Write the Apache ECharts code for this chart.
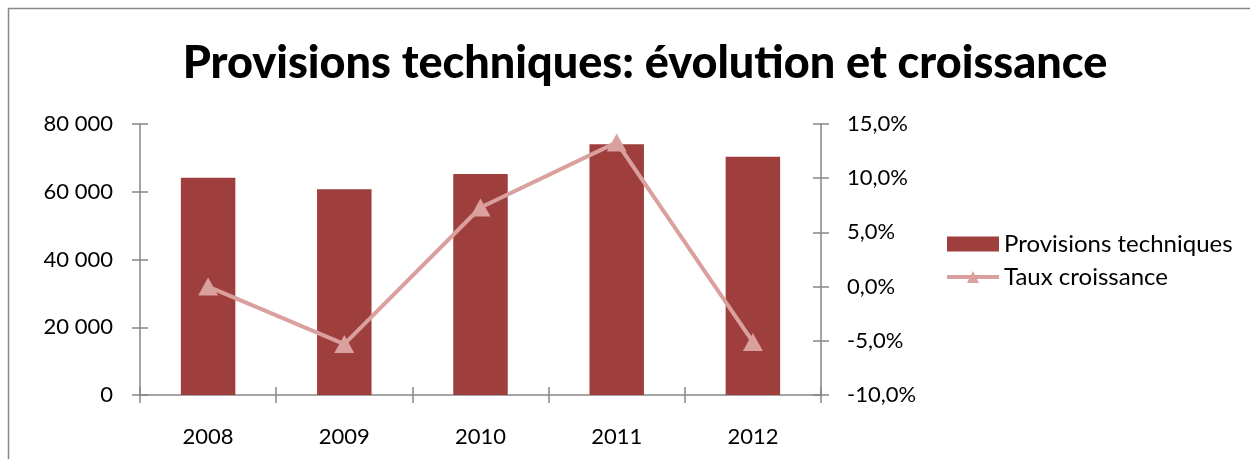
<!DOCTYPE html>
<html>
<head>
<meta charset="utf-8">
<script src="https://cdn.jsdelivr.net/npm/echarts@6/dist/echarts.min.js"></script>
<style>html,body{margin:0;padding:0;background:#fff}#c{width:1250px;height:459px}</style>
</head>
<body>
<div id="c"></div>
<script>
var categories = ['2008', '2009', '2010', '2011', '2012'];
var provisions = [64150, 60720, 65240, 74000, 70350];
var croissance = [0.0, -5.3, 7.3, 13.3, -5.1];
var leftTicks = {min: 0, max: 80000, interval: 20000};
var rightTicks = {min: -10, max: 15, interval: 5};

var FONT = 'Lato';
var AXIS = '#868686';
var LINE = '#D9A09E';
var chart = echarts.init(document.getElementById('c'));

function leftFmt(v){ return String(v).replace(/\B(?=(\d{3})+(?!\d))/g, ' '); }
function rightFmt(v){ return v.toFixed(1).replace('.', ',') + '%'; }

var lbl = {color: '#000', fontFamily: FONT, fontSize: 22};

chart.setOption({
  animation: false,
  title: {
    text: 'Provisions techniques: évolution et croissance',
    left: 640, top: 36, textAlign: 'center',
    textStyle: {fontFamily: FONT, fontWeight: 900, fontSize: 45, color: '#000'}
  },
  graphic: [{
    type: 'rect', shape: {x: 8.5, y: 8.5, width: 1300, height: 500},
    style: {fill: 'none', stroke: '#888', lineWidth: 1.5}, z: -1
  }],
  legend: {
    orient: 'vertical', left: 940, top: 227,
    itemWidth: 52, itemHeight: 15, itemGap: 9,
    textStyle: {fontFamily: FONT, fontSize: 24, color: '#000'},
    data: [
      {name: 'Provisions techniques', icon: 'rect'},
      {name: 'Taux croissance', lineStyle: {width: 4, color: LINE}}
    ]
  },
  grid: {left: 140, right: 429, top: 124, bottom: 64},
  xAxis: [{
    type: 'category', data: categories, boundaryGap: true,
    axisLine: {onZero: false, lineStyle: {color: AXIS, width: 1.5}},
    axisTick: {show: true, length: 8, lineStyle: {color: AXIS, width: 1.5}},
    axisLabel: Object.assign({margin: 31}, lbl),
    splitLine: {show: false}
  }, {
    type: 'category', data: categories, boundaryGap: true, position: 'bottom',
    axisLine: {show: false, onZero: false},
    axisTick: {show: true, inside: true, length: 8, lineStyle: {color: AXIS, width: 1.5}},
    axisLabel: {show: false}, splitLine: {show: false}
  }],
  yAxis: [{
    type: 'value', position: 'left', min: leftTicks.min, max: leftTicks.max, interval: leftTicks.interval,
    axisLine: {show: true, lineStyle: {color: AXIS, width: 1.5}},
    axisTick: {show: true, length: 8, lineStyle: {color: AXIS, width: 1.5}},
    axisLabel: Object.assign({margin: 27, formatter: leftFmt}, lbl),
    splitLine: {show: false}
  }, {
    type: 'value', position: 'right', min: rightTicks.min, max: rightTicks.max, interval: rightTicks.interval,
    axisLine: {show: true, lineStyle: {color: AXIS, width: 1.5}},
    axisTick: {show: true, length: 8, lineStyle: {color: AXIS, width: 1.5}},
    axisLabel: Object.assign({margin: 26, formatter: rightFmt}, lbl),
    splitLine: {show: false}
  }, {
    type: 'value', position: 'left', min: leftTicks.min, max: leftTicks.max, interval: leftTicks.interval,
    axisLine: {show: false},
    axisTick: {show: true, inside: true, length: 8, lineStyle: {color: AXIS, width: 1.5}},
    axisLabel: {show: false}, splitLine: {show: false}
  }, {
    type: 'value', position: 'right', min: rightTicks.min, max: rightTicks.max, interval: rightTicks.interval,
    axisLine: {show: false},
    axisTick: {show: true, inside: true, length: 8, lineStyle: {color: AXIS, width: 1.5}},
    axisLabel: {show: false}, splitLine: {show: false}
  }],
  series: [{
    name: 'Provisions techniques', type: 'bar', data: provisions,
    xAxisIndex: 0, yAxisIndex: 0, barWidth: '40%',
    itemStyle: {color: '#9E3F3D'}
  }, {
    name: 'Taux croissance', type: 'line', data: croissance,
    xAxisIndex: 0, yAxisIndex: 1,
    symbol: 'triangle', symbolSize: [20, 18],
    lineStyle: {color: LINE, width: 4},
    itemStyle: {color: LINE}
  }]
});
</script>
</body>
</html>
